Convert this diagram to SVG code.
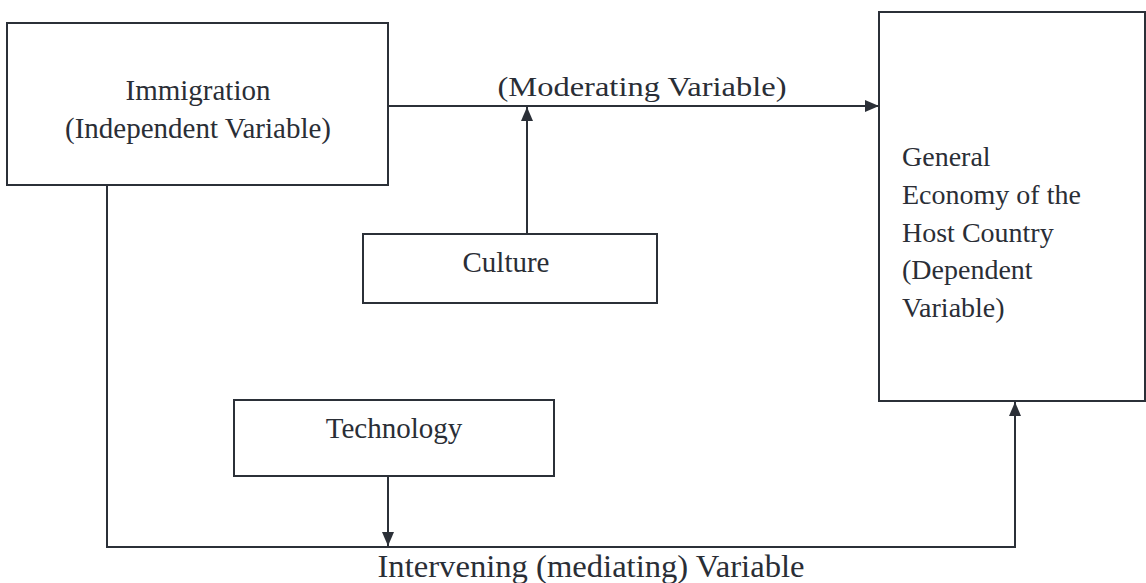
<svg xmlns="http://www.w3.org/2000/svg" width="1146" height="583" viewBox="0 0 1146 583">
<style>
.box{fill:#fff;stroke:#2b3038;stroke-width:2}
.ln{fill:none;stroke:#2b3038;stroke-width:2}
text{font-family:"Liberation Serif","Times New Roman",serif;fill:#2a2e36}
</style>
<defs>
<marker id="ah" viewBox="0 0 14 12" refX="14" refY="6" markerWidth="14" markerHeight="12" markerUnits="userSpaceOnUse" orient="auto">
<path d="M0,0 L14,6 L0,12 Z" fill="#2b3038"/>
</marker>
</defs>
<rect width="1146" height="583" fill="#fff"/>
<g id="connectors">
<line class="ln" x1="388" y1="106" x2="879" y2="106" marker-end="url(#ah)"/>
<line class="ln" x1="527" y1="234" x2="527" y2="107" marker-end="url(#ah)"/>
<polyline class="ln" points="107,185 107,547 1015,547 1015,402" marker-end="url(#ah)"/>
<line class="ln" x1="388" y1="476" x2="388" y2="546" marker-end="url(#ah)"/>
<text x="642" y="96" font-size="28" text-anchor="middle" textLength="289" lengthAdjust="spacingAndGlyphs">(Moderating Variable)</text>
<text x="591" y="577" font-size="32" text-anchor="middle" textLength="427" lengthAdjust="spacingAndGlyphs">Intervening (mediating) Variable</text>
</g>
<g id="immigration">
<rect class="box" x="7" y="23" width="381" height="162"/>
<text x="198" y="100" font-size="29" text-anchor="middle">Immigration</text>
<text x="198" y="138" font-size="29" text-anchor="middle">(Independent Variable)</text>
</g>
<g id="economy">
<rect class="box" x="879" y="12" width="266" height="389"/>
<text x="902" y="166" font-size="28">General</text>
<text x="902" y="204" font-size="28">Economy of the</text>
<text x="902" y="242" font-size="28">Host Country</text>
<text x="902" y="279" font-size="28">(Dependent</text>
<text x="902" y="317" font-size="28">Variable)</text>
</g>
<g id="culture">
<rect class="box" x="363" y="234" width="294" height="69"/>
<text x="506" y="272" font-size="29" text-anchor="middle">Culture</text>
</g>
<g id="technology">
<rect class="box" x="234" y="400" width="320" height="76"/>
<text x="394" y="438" font-size="29" text-anchor="middle">Technology</text>
</g>
</svg>
